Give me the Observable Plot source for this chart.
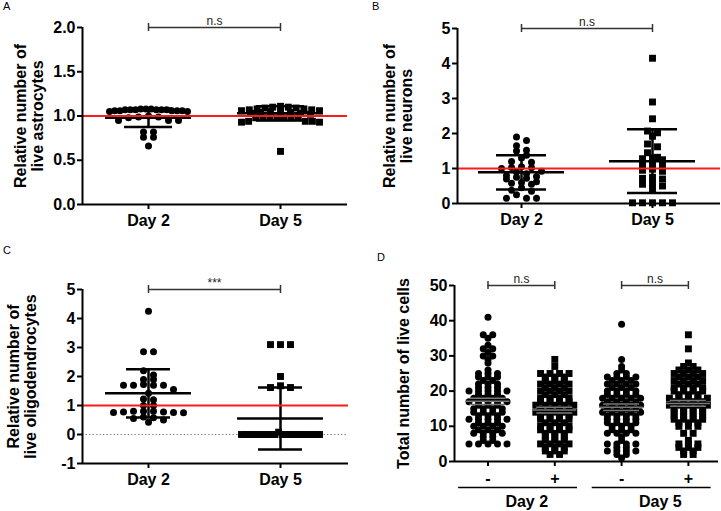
<!DOCTYPE html>
<html><head><meta charset="utf-8">
<script src="https://cdn.jsdelivr.net/npm/d3@7"></script>
<script src="https://cdn.jsdelivr.net/npm/@observablehq/plot@0.6"></script>
<style>
body{margin:0;background:#fff;}
#fig{position:relative;width:721px;height:511px;overflow:hidden;font-family:"Liberation Sans",Arial,sans-serif;background:#fff;}
.panel{position:absolute;}
.letter{position:absolute;font-size:11px;line-height:11px;color:#000;}
</style></head><body><div id="fig"></div>
<script>
// ---------- DATA ----------
const days = ["Day 2", "Day 5"];

// Panel A: relative number of live astrocytes
const aDay2 = [1.08,1.08,1.08,1.07,1.07,1.07,1.07,1.07,1.07,1.06,1.06,1.06,1.06,1.06,1.05,1.05,
               1.00,0.99,0.99,0.98,0.95,0.95,0.95,0.82,0.82,0.76,0.76,0.66];
const aDay5 = [1.11,1.10,1.10,1.09,1.09,1.08,1.08,1.07,1.07,1.06,1.06,1.05,1.05,1.04,1.04,1.03,1.03,1.02,
               0.98,0.98,0.98,0.98,0.98,0.98,0.98,0.94,0.94,0.94,0.93,0.93,0.60];
const aMean = [0.98, 1.03];
const aSD = [0.105, 0.08];
const aTicks = [0, 0.5, 1, 1.5, 2];

// Panel B: relative number of live neurons
const bDay2 = [1.90,1.80,1.65,1.52,1.50,1.38,1.30,1.20,1.18,1.05,1.03,1.02,1.00,0.92,0.90,0.85,
               0.80,0.77,0.75,0.72,0.70,0.62,0.60,0.58,0.55,0.45,0.38,0.35,0.25,0.15,0.15,0.15];
const bDay5 = [4.15,2.90,2.42,2.07,2.02,1.92,1.70,1.62,1.45,1.32,1.30,1.28,1.25,1.15,1.12,1.10,
               0.98,0.95,0.92,0.75,0.72,0.70,0.60,0.55,0.50,0.42,0.02,0.02,0.02,0.02,0.02];
const bMean = [0.89, 1.21];
const bSD = [0.49, 0.91];
const bTicks = [0, 1, 2, 3, 4, 5];

// Panel C: relative number of live oligodendrocytes
const cDay2 = [4.25,2.85,2.85,2.20,2.05,1.90,1.90,1.72,1.70,1.70,1.70,1.70,1.55,1.42,1.22,1.20,
               1.00,1.00,0.80,0.80,0.80,0.78,0.78,0.76,0.76,0.75,0.60,0.58,0.55,0.50,0.42];
const cDay5 = [3.10,3.10,3.10,2.00,1.68,1.62,1.62,0.08,
               0,0,0,0,0,0,0,0,0,0,0,0,0,0,0,0,0,0,0,0,0];
const cMean = [1.42, 0.55];
const cSD = [0.83, 1.07];
const cTicks = [-1, 0, 1, 2, 3, 4, 5];

// Panel D: total number of live cells (value -> count)
const dTickLabels = ["-", "+", "-", "+"];
const dGroupLabels = ["Day 2", "Day 5"];
const dGroupFirst = [0, 2];
const dGroupLast = [1, 3];
const d2MinusVals = [41,36,35,33,32,31,30,29,28,26,25,24,23,22,21,20,19,18,17,16,15,14,13,12,11,10,9,8,7,6,5];
const d2MinusCounts = [1,2,1,1,2,1,2,1,1,1,3,3,2,3,3,5,3,4,5,3,4,4,3,5,3,4,3,4,2,2,5];
const d2PlusVals = [29,27,25,24,23,22,21,20,19,18,17,16,15,14,13,12,11,10,9,8,7,6,5,4,3,2];
const d2PlusCounts = [1,1,4,3,3,4,3,4,3,4,4,5,4,5,4,4,3,4,4,3,3,3,4,3,3,2];
const d5MinusVals = [39,29,27,26,25,24,23,22,21,20,19,18,17,16,15,14,13,12,11,10,9,8,7,6,5,4,3,2,1];
const d5MinusCounts = [1,1,1,1,2,4,3,4,3,4,4,5,4,5,4,5,4,4,4,3,3,4,1,1,4,2,4,2,1];
const d5PlusVals = [36,32,28,27,26,25,24,23,22,21,20,19,18,17,16,15,14,13,12,11,10,8,6,5,4,3,2];
const d5PlusCounts = [1,1,1,2,3,4,3,4,3,4,4,3,5,4,5,4,4,4,4,3,3,2,1,3,3,2,2];
const dMean = [17.1, 14.6, 15.4, 16.5];
const dSEM = [0.9, 0.8, 0.9, 0.8];
const dTicks = [0, 10, 20, 30, 40, 50];

// ---------- HELPERS ----------
const FONT = '"Liberation Sans", Arial, sans-serif';
const expand = (vals, counts) => vals.flatMap((v, i) => Array(counts[i]).fill(v));
const xd = (L, R, c0, step) => [(L - c0) / step, (R - c0) / step];

// GraphPad-like scatter: bin into rows by pixel height, spread each row horizontally
function swarm(values, cat, pxX, pxY, o) {
  const sorted = values.slice().sort((a, b) => b - a);
  const rows = []; let cur = null;
  for (const v of sorted) {
    if (cur && (cur.start - v) * pxY < o.bin) cur.vals.push(v);
    else { cur = {start: v, vals: [v]}; rows.push(cur); }
  }
  const out = [];
  for (const r of rows) {
    const n = r.vals.length;
    const sp = n > 1 ? Math.min(o.spacing, 2 * o.maxHalf / (n - 1)) : 0;
    const offs = d3.range(n).map(k => (k - (n - 1) / 2) * sp)
      .sort((a, b) => Math.abs(a) - Math.abs(b) || a - b);
    r.vals.forEach((v, k) => out.push({x: cat + offs[k] / pxX, y: v}));
  }
  return out;
}

function panel(cfg) {
  const {width, height, mT, mB, mL, mR, xDomain, yDomain} = cfg;
  const pxX = (width - mL - mR) / (xDomain[1] - xDomain[0]);
  const pxY = (height - mT - mB) / (yDomain[1] - yDomain[0]);
  const yTop = yDomain[1], yBot = yDomain[0];
  const marks = [];

  if (cfg.zeroDotted) marks.push(Plot.ruleY([0], {stroke: "#888", strokeWidth: 1, strokeDasharray: "1.5,2"}));

  cfg.groups.forEach((g, i) => {
    const pts = swarm(g.values, i, pxX, pxY, cfg.swarm);
    marks.push(Plot.dot(pts, {x: "x", y: "y", r: g.symbol === "square" ? 3.9 : 3.5,
      symbol: g.symbol, fill: "#000", stroke: "none"}));
  });

  // summary lines
  const s = cfg.summary;
  const idx = d3.range(s.mean.length);
  const mh = s.meanHalf / pxX, ch = s.capHalf / pxX;
  marks.push(Plot.ruleY(idx, {y: i => s.mean[i], x1: i => i - mh, x2: i => i + mh, stroke: s.color, strokeWidth: s.width}));
  marks.push(Plot.ruleY(idx, {y: i => s.mean[i] + s.spread[i], x1: i => i - ch, x2: i => i + ch, stroke: s.color, strokeWidth: s.width}));
  marks.push(Plot.ruleY(idx, {y: i => s.mean[i] - s.spread[i], x1: i => i - ch, x2: i => i + ch, stroke: s.color, strokeWidth: s.width}));
  if (s.vertical) marks.push(Plot.ruleX(idx, {x: i => i, y1: i => s.mean[i] - s.spread[i], y2: i => s.mean[i] + s.spread[i], stroke: s.color, strokeWidth: s.width}));

  if (cfg.redLine) marks.push(Plot.ruleY([1], {stroke: "#ff1a1a", strokeWidth: 1.8}));

  // axes
  marks.push(Plot.ruleX([xDomain[0]], {strokeWidth: 2}));
  marks.push(Plot.ruleY([yBot], {strokeWidth: 2}));
  marks.push(Plot.axisY({ticks: cfg.yTicks, tickFormat: cfg.yFormat, tickSize: 5, tickPadding: 2,
    strokeWidth: 2, fontSize: 16, fontWeight: "bold", label: null}));
  marks.push(Plot.axisX({ticks: d3.range(cfg.xLabels.length), tickFormat: i => cfg.xLabels[i],
    tickSize: 5, tickPadding: cfg.xPad, strokeWidth: 2, fontSize: 16, fontWeight: "bold", label: null}));

  // y label
  marks.push(Plot.text([cfg.ylabel], {text: d => d, frameAnchor: "left", textAnchor: "middle", lineAnchor: "middle",
    rotate: -90, dx: -cfg.ylabelOffset, lineHeight: 1.06, fontSize: 16, fontWeight: "bold", fill: "#000"}));

  // significance brackets
  const br = cfg.brackets;
  const tk = 4 / pxY;
  marks.push(Plot.ruleY(br, {y: () => yTop, x1: b => b.from, x2: b => b.to, stroke: "#333", strokeWidth: 1.5}));
  marks.push(Plot.ruleX(br.flatMap(b => [b.from, b.to]), {x: d => d, y1: () => yTop - tk, y2: () => yTop + tk, stroke: "#333", strokeWidth: 1.5}));
  marks.push(Plot.text(br, {x: b => (b.from + b.to) / 2, y: () => yTop, text: b => b.label, dy: -3,
    lineAnchor: "bottom", fontSize: 12, fontWeight: "normal", fill: "#222"}));

  if (cfg.groupLines) {
    const gl = cfg.groupLines;
    const gi = d3.range(gl.labels.length);
    marks.push(Plot.ruleY(gi, {y: () => yBot, x1: i => gl.first[i] - 0.44, x2: i => gl.last[i] + 0.34, dy: 26, strokeWidth: 1.5}));
    marks.push(Plot.text(gi, {x: i => (gl.first[i] + gl.last[i]) / 2 + 0.08, y: () => yBot, text: i => gl.labels[i],
      dy: 40, fontSize: 16, fontWeight: "bold", fill: "#000"}));
  }

  const svg = Plot.plot({
    width, height, marginTop: mT, marginBottom: mB, marginLeft: mL, marginRight: mR,
    x: {domain: xDomain}, y: {domain: yDomain},
    style: {fontFamily: FONT, fontSize: "16px", fontWeight: "bold", color: "#000", background: "transparent", overflow: "visible"},
    marks
  });
  svg.classList.add("panel");
  svg.style.left = cfg.left + "px";
  svg.style.top = cfg.top + "px";
  return svg;
}

const swarmABC = {bin: 5, spacing: 10, maxHalf: 39};
const fig = document.getElementById("fig");

fig.appendChild(panel({
  left: 0, top: 0, width: 360, height: 250, mT: 27, mB: 46, mL: 82, mR: 13, xPad: 5,
  xDomain: xd(82, 347, 148, 132), yDomain: [0, 2], yTicks: aTicks, yFormat: d => d.toFixed(1),
  xLabels: days, groups: [{values: aDay2, symbol: "circle"}, {values: aDay5, symbol: "square"}],
  swarm: swarmABC,
  summary: {mean: aMean, spread: aSD, meanHalf: 43, capHalf: 24, color: "#000", width: 2.5, vertical: true},
  redLine: true, ylabel: "Relative number of\nlive astrocytes", ylabelOffset: 53.5,
  brackets: [{from: 0, to: 1, label: "n.s"}]
}));

fig.appendChild(panel({
  left: 360, top: 0, width: 361, height: 250, mT: 28, mB: 47, mL: 97, mR: 1, xPad: 5,
  xDomain: xd(457, 720, 521, 131), yDomain: [0, 5], yTicks: bTicks, yFormat: d => String(d),
  xLabels: days, groups: [{values: bDay2, symbol: "circle"}, {values: bDay5, symbol: "square"}],
  swarm: swarmABC,
  summary: {mean: bMean, spread: bSD, meanHalf: 43, capHalf: 25, color: "#000", width: 2.5, vertical: true},
  redLine: true, ylabel: "Relative number of\nlive neurons", ylabelOffset: 59.5,
  brackets: [{from: 0, to: 1, label: "n.s"}]
}));

fig.appendChild(panel({
  left: 0, top: 250, width: 360, height: 261, mT: 39, mB: 48, mL: 82, mR: 12, xPad: 5,
  xDomain: xd(82, 348, 148, 132), yDomain: [-1, 5], yTicks: cTicks, yFormat: d => String(d),
  xLabels: days, groups: [{values: cDay2, symbol: "circle"}, {values: cDay5, symbol: "square"}],
  swarm: swarmABC,
  summary: {mean: cMean, spread: cSD, meanHalf: 43, capHalf: 22, color: "#000", width: 2.5, vertical: true},
  redLine: true, zeroDotted: true, ylabel: "Relative number of\nlive oligodendrocytes", ylabelOffset: 60,
  brackets: [{from: 0, to: 1, label: "***"}]
}));

fig.appendChild(panel({
  left: 360, top: 250, width: 361, height: 261, mT: 35, mB: 50, mL: 94, mR: 3, xPad: 6,
  xDomain: xd(454, 718, 487.5, 66.8), yDomain: [0, 50], yTicks: dTicks, yFormat: d => String(d),
  xLabels: dTickLabels,
  groups: [
    {values: expand(d2MinusVals, d2MinusCounts), symbol: "circle"},
    {values: expand(d2PlusVals, d2PlusCounts), symbol: "square"},
    {values: expand(d5MinusVals, d5MinusCounts), symbol: "circle"},
    {values: expand(d5PlusVals, d5PlusCounts), symbol: "square"}
  ],
  swarm: {bin: 2, spacing: 9.5, maxHalf: 19},
  summary: {mean: dMean, spread: dSEM, meanHalf: 22, capHalf: 18, color: "#777", width: 1.5, vertical: false},
  redLine: false, ylabel: "Total number of live cells", ylabelOffset: 51,
  brackets: [{from: 0, to: 1, label: "n.s"}, {from: 2, to: 3, label: "n.s"}],
  groupLines: {labels: dGroupLabels, first: dGroupFirst, last: dGroupLast}
}));

// panel letters
[["A", 3, 1], ["B", 372, 1], ["C", 3, 245], ["D", 377, 252]].forEach(([t, x, y]) => {
  const el = document.createElement("div");
  el.className = "letter"; el.textContent = t;
  el.style.left = x + "px"; el.style.top = y + "px";
  fig.appendChild(el);
});
</script></body></html>
